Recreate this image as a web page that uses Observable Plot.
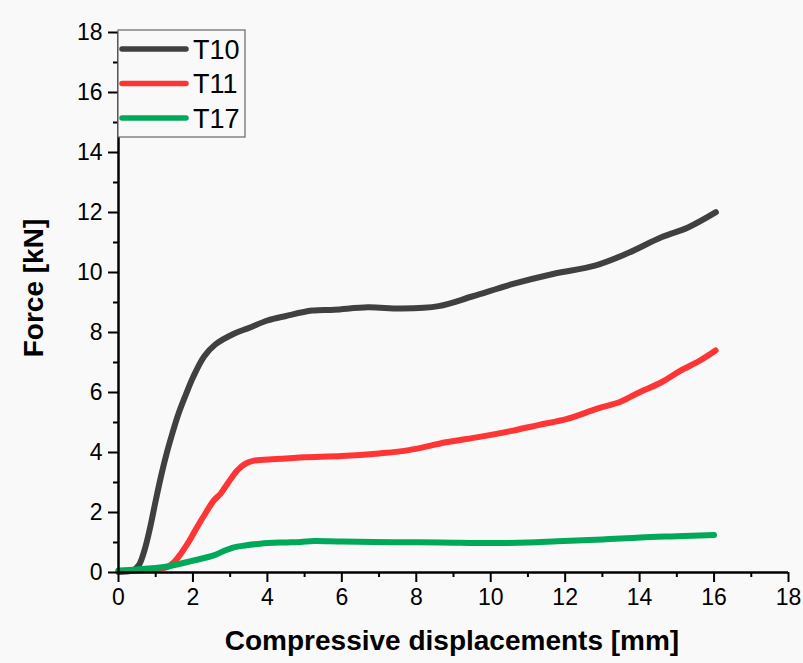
<!DOCTYPE html>
<html>
<head>
<meta charset="utf-8">
<script src="https://cdn.jsdelivr.net/npm/d3@7"></script>
<script src="https://cdn.jsdelivr.net/npm/@observablehq/plot@0.6"></script>
<style>
  html, body { margin: 0; padding: 0; background: #ffffff; }
  #chart { width: 803px; height: 663px; }
  #chart svg { background: #f9f9f9; display: block; }
</style>
</head>
<body>
<div id="chart"></div>
<script>
// ---- Data ----
const seriesNames = ["T10", "T11", "T17"];
const seriesColors = ["#404040", "#ff3535", "#00a859"];

const t10X = [0, 0.2, 0.4, 0.55, 0.7, 0.85, 1.0, 1.15, 1.3, 1.45, 1.6, 1.8, 2.0, 2.3, 2.6, 3.1, 3.5, 4.0, 4.5, 5.2, 5.8, 6.7, 7.6, 8.6, 9.5, 10.6, 11.7, 12.8, 13.6, 14.6, 15.3, 16.05];
const t10Y = [0.02, 0.03, 0.08, 0.25, 0.75, 1.5, 2.4, 3.25, 4.0, 4.65, 5.25, 5.9, 6.5, 7.2, 7.6, 7.96, 8.15, 8.4, 8.55, 8.73, 8.76, 8.84, 8.8, 8.88, 9.2, 9.62, 9.96, 10.23, 10.6, 11.18, 11.5, 12.01];

const t11X = [0, 0.5, 1.0, 1.3, 1.5, 1.67, 1.9, 2.11, 2.35, 2.56, 2.74, 2.95, 3.19, 3.4, 3.64, 3.9, 4.5, 5.0, 6.0, 7.0, 7.8, 8.8, 9.7, 10.6, 11.3, 12.05, 12.86, 13.5, 14.0, 14.6, 15.1, 15.6, 16.04];
const t11Y = [0.05, 0.07, 0.12, 0.18, 0.35, 0.62, 1.05, 1.51, 2.0, 2.4, 2.62, 3.0, 3.4, 3.62, 3.73, 3.76, 3.8, 3.84, 3.88, 3.97, 4.08, 4.34, 4.52, 4.73, 4.92, 5.12, 5.46, 5.7, 6.01, 6.35, 6.73, 7.05, 7.4];

const t17X = [0, 0.5, 1.31, 2.02, 2.56, 2.8, 3.1, 3.4, 3.81, 4.4, 4.89, 5.25, 6.0, 7.4, 8.65, 10.0, 11.0, 11.79, 13.0, 14.02, 15.0, 16.0];
const t17Y = [0.07, 0.1, 0.2, 0.4, 0.57, 0.7, 0.84, 0.9, 0.96, 1.0, 1.02, 1.05, 1.03, 1.01, 1.0, 0.98, 1.0, 1.04, 1.1, 1.17, 1.21, 1.25];

const xMajorTicks = [0, 2, 4, 6, 8, 10, 12, 14, 16, 18];
const yMajorTicks = [0, 2, 4, 6, 8, 10, 12, 14, 16, 18];
const xMinorTicks = [1, 3, 5, 7, 9, 11, 13, 15, 17];
const yMinorTicks = [1, 3, 5, 7, 9, 11, 13, 15, 17];

const xLabel = "Compressive displacements [mm]";
const yLabel = "Force [kN]";

// ---- Build table ----
const allX = [t10X, t11X, t17X];
const allY = [t10Y, t11Y, t17Y];
const data = [];
seriesNames.forEach((name, i) => {
  allX[i].forEach((x, j) => data.push({series: name, x, y: allY[i][j]}));
});

const font = "'Liberation Sans', Arial, sans-serif";

const chart = Plot.plot({
  width: 803,
  height: 663,
  marginLeft: 118,
  marginRight: 15,
  marginTop: 32,
  marginBottom: 91,
  style: {fontFamily: font, fontSize: "22px", background: "#f9f9f9", color: "#000"},
  x: {domain: [0, 18]},
  y: {domain: [0, 18]},
  color: {domain: seriesNames, range: seriesColors},
  marks: [
    Plot.line(data, {x: "x", y: "y", z: "series", stroke: "series", strokeWidth: 6, curve: "catmull-rom", strokeLinecap: "round", strokeLinejoin: "round"}),
    Plot.axisX({ticks: xMinorTicks, tickSize: 5, tickFormat: () => "", strokeWidth: 2, label: null}),
    Plot.axisY({ticks: yMinorTicks, tickSize: 5, tickFormat: () => "", strokeWidth: 2, label: null}),
    Plot.axisX({ticks: xMajorTicks, tickSize: 10, tickPadding: 6, strokeWidth: 2, label: null, tickFormat: d => String(d)}),
    Plot.axisY({ticks: yMajorTicks, tickSize: 10, tickPadding: 6, strokeWidth: 2, label: null, tickFormat: d => String(d)}),
    Plot.ruleX([0], {stroke: "#000", strokeWidth: 2.5}),
    Plot.ruleY([0], {stroke: "#000", strokeWidth: 2.5})
  ]
});

document.getElementById("chart").appendChild(chart);

// ---- Axis titles and legend (decorations added to the SVG) ----
const svg = d3.select(chart);

// enforce tick label size
svg.selectAll('g[aria-label="x-axis tick label"], g[aria-label="y-axis tick label"]')
  .attr("font-size", 23)
  .selectAll("text").attr("font-size", 23);

svg.append("text")
  .attr("x", 452).attr("y", 650)
  .attr("text-anchor", "middle")
  .attr("font-family", font).attr("font-weight", "bold").attr("font-size", 28)
  .attr("fill", "#000")
  .text(xLabel);

svg.append("text")
  .attr("transform", "translate(43,288) rotate(-90)")
  .attr("text-anchor", "middle")
  .attr("font-family", font).attr("font-weight", "bold").attr("font-size", 28)
  .attr("fill", "#000")
  .text(yLabel);

const legend = svg.append("g");
legend.append("rect")
  .attr("x", 118).attr("y", 30).attr("width", 127).attr("height", 107)
  .attr("fill", "#f9f9f9").attr("stroke", "#666").attr("stroke-width", 1.2);
const rowY = [49, 83.5, 118];
seriesNames.forEach((name, i) => {
  legend.append("line")
    .attr("x1", 122).attr("x2", 186).attr("y1", rowY[i]).attr("y2", rowY[i])
    .attr("stroke", seriesColors[i]).attr("stroke-width", 5.5).attr("stroke-linecap", "round");
  legend.append("text")
    .attr("x", 193).attr("y", rowY[i]).attr("dy", "0.36em")
    .attr("text-anchor", "start")
    .attr("font-family", font).attr("font-size", 27).attr("fill", "#000")
    .text(name);
});
</script>
</body>
</html>
